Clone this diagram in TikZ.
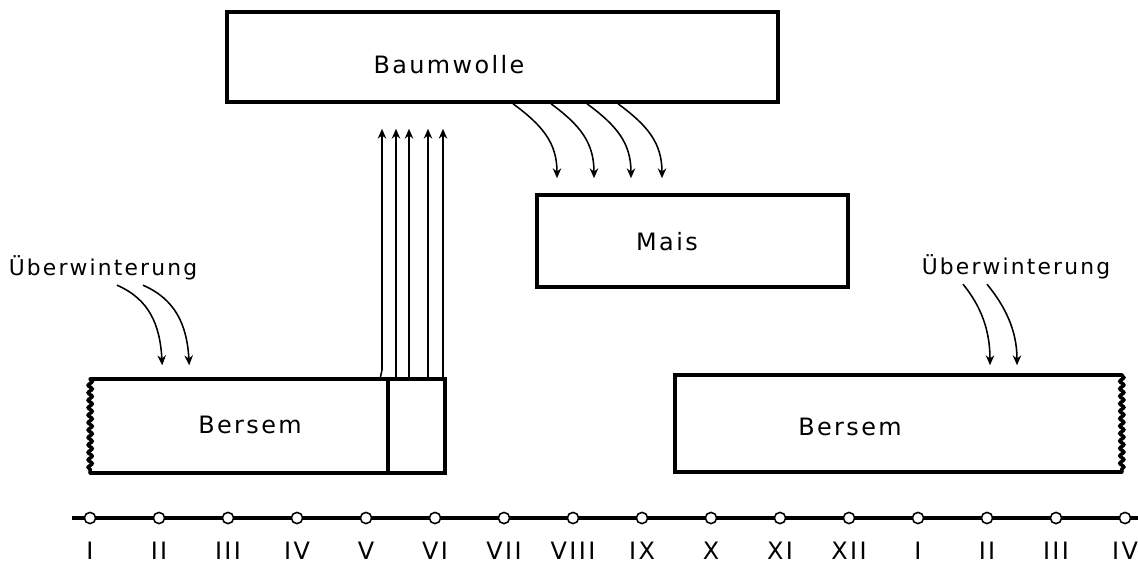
\documentclass[tikz,border=0pt]{standalone}
\usepackage{fontspec}
\setmainfont{DejaVu Sans}[LetterSpace=10]
\usepackage{tikz}
\usetikzlibrary{arrows.meta, decorations.pathmorphing, positioning}

\begin{document}
\begin{tikzpicture}[
            x=0.025cm, y=-0.025cm,
            >={Stealth[length=7pt,width=6pt]},
            coltura/.style={rectangle, draw, line width=2.5pt, inner sep=0pt},
            bordo/.style={line width=2.5pt, line cap=round},
            onda/.style={decorate, decoration={snake, segment length=5.3pt, amplitude=1.4pt}},
            testo/.style={font=\fontsize{17}{20}\selectfont},
            freccia/.style={->, line width=1.1pt},
            mese/.style={circle, draw, fill=white, line width=1.1pt, inner sep=0pt, minimum size=8pt}
        ]
        \useasboundingbox (0,0) rectangle (1138,566);

        % Colture
        \node[coltura, minimum width=13.775cm, minimum height=2.25cm] (baum) at (502.5,57) {};
        \node[coltura, minimum width=7.775cm, minimum height=2.3cm] (mais) at (692.5,241) {};
        \node[coltura, draw=none, minimum width=8.775cm, minimum height=2.25cm] (bersemL) at (267.5,426) {};
        \node[coltura, draw=none, minimum width=11.075cm, minimum height=2.325cm] (bersemR) at (898.5,423.5) {};

        % Bordi di Bersem
        \draw[bordo] (bersemL.north west) -- (bersemL.north east) -- (bersemL.south east) -- (bersemL.south west);
        \draw[bordo, onda] (bersemL.north west) -- (bersemL.south west);
        \draw[bordo] (388,0 |- bersemL.north) -- (388,0 |- bersemL.south);
        \draw[bordo] (bersemR.north east) -- (bersemR.north west) -- (bersemR.south west) -- (bersemR.south east);
        \draw[bordo, onda] (bersemR.north east) -- (bersemR.south east);

        % Etichette
        \node[testo] (tBaum) at (449,65) {Baumwolle};
        \node[testo] (tMais) at (667,242) {Mais};
        \node[testo] (tBersemL) at (250,425) {Bersem};
        \node[testo] (tBersemR) at (850,427) {Bersem};
        \node[testo, font=\fontsize{15.5}{18}\selectfont] (ueberL) at (103,268) {Überwinterung};
        \node[testo, font=\fontsize{15.5}{18}\selectfont] (ueberR) at (1016,267) {Überwinterung};

        % Frecce verso Baumwolle
        \draw[freccia, shorten >=0.625cm] (380,0 |- bersemL.north) -- (382,370) -- (382,0 |- baum.south);
        \foreach \x in {396,409,428,443}
            \draw[freccia, shorten >=0.625cm] (\x,0 |- bersemL.north) -- (\x,0 |- baum.south);

        % Frecce verso Mais
        \foreach \a/\b in {513/557, 551/594, 587/631, 618/662}
            \draw[freccia, shorten >=0.375cm] (\a,0 |- baum.south) .. controls +(30,22) and +(0,-50) .. (\b,0 |- mais.north);

        % Svernamento
        \foreach \a/\b in {117/163, 143/190}
            \draw[freccia, shorten >=0.35cm] (\a,0 |- ueberL.south) .. controls +(32,14) and +(-3,-55) .. (\b,0 |- bersemL.north);
        \foreach \a/\b in {963/990, 987/1017}
            \draw[freccia, shorten >=0.25cm] (\a,0 |- ueberR.south) .. controls +(18,22) and +(0,-45) .. (\b,0 |- bersemR.north);

        % Asse dei mesi
        \coordinate (inizio) at (72,518);
        \coordinate (fine) at (1138,518);
        \draw[line width=2.8pt] (inizio) -- (fine);
        \foreach \m [count=\i from 0] in {I,II,III,IV,V,VI,VII,VIII,IX,X,XI,XII,I,II,III,IV} {
            \node[mese] (m\i) at ({90+69*\i},518) {};
            \node[testo] (l\i) at ({90+69*\i},551) {\m};
        }

        \end{tikzpicture}
\end{document}
